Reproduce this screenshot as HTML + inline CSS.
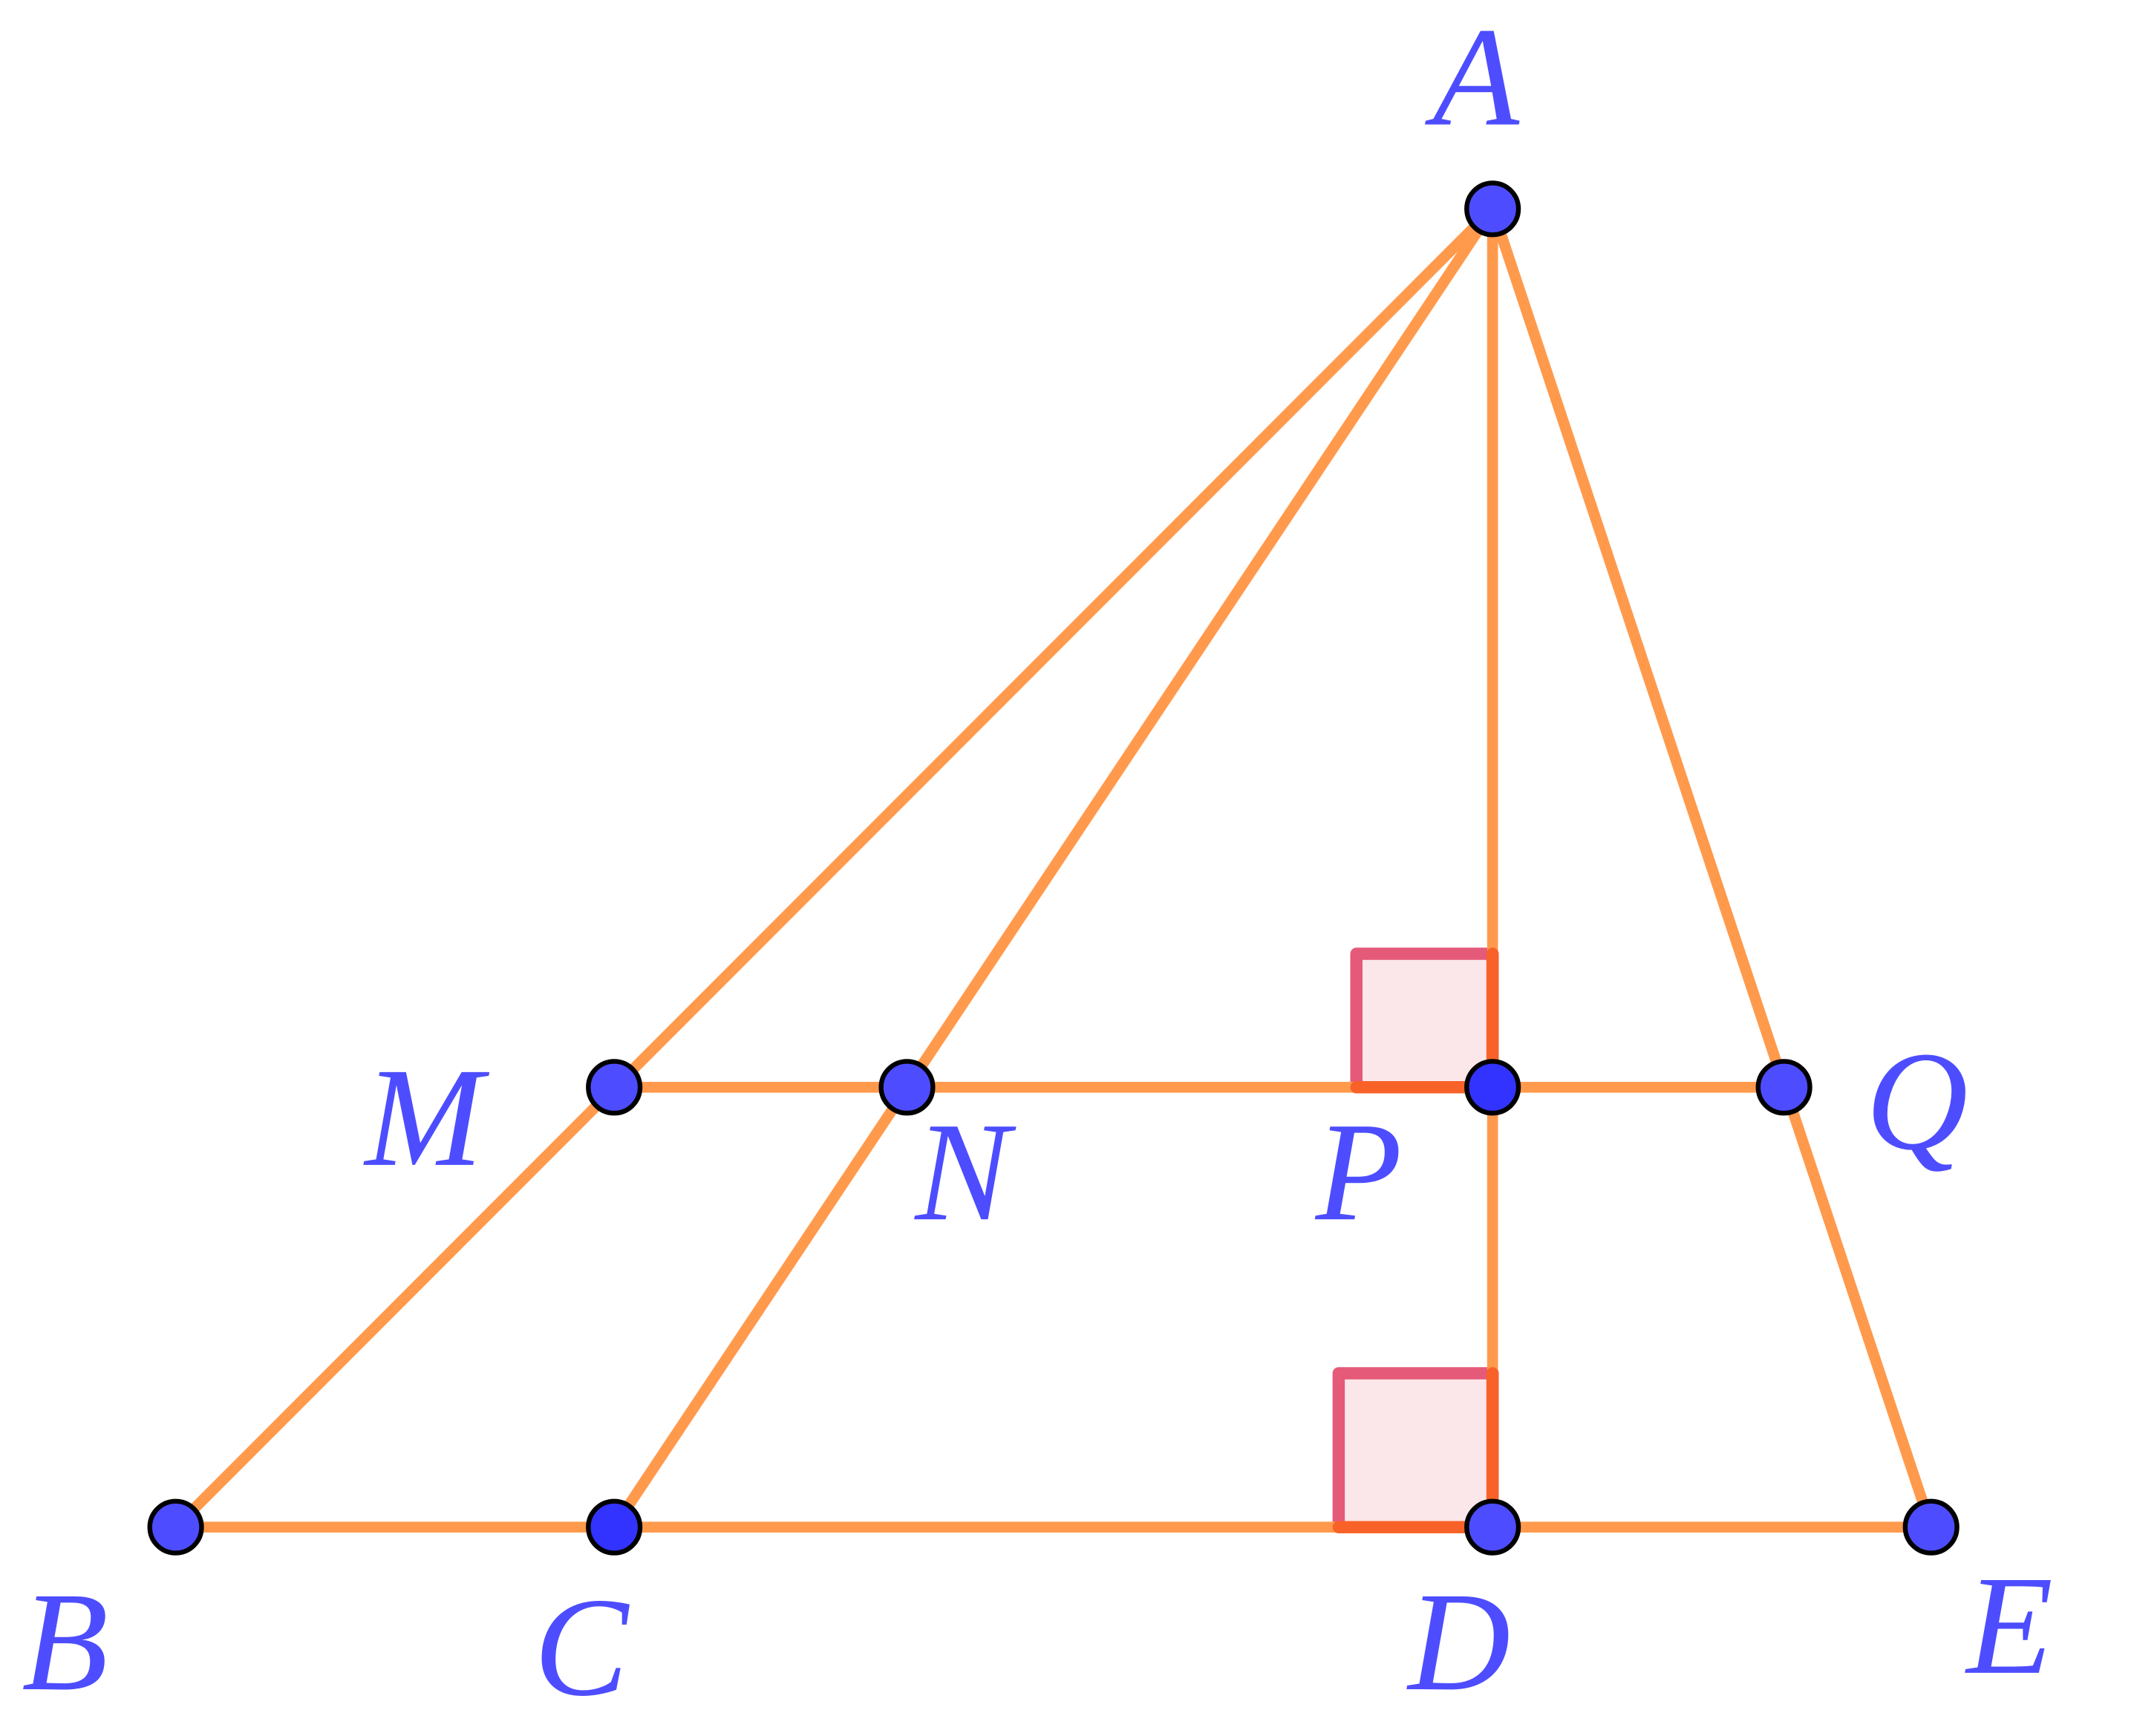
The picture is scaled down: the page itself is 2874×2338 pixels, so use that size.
<!DOCTYPE html>
<html><head><style>html,body{margin:0;padding:0;background:#fff}svg{display:block}</style></head>
<body>
<svg width="2874" height="2338" viewBox="0 0 1567 1274" xmlns="http://www.w3.org/2000/svg">
<rect width="1567" height="1274" fill="#fff"/>
<g stroke-linejoin="round" stroke-linecap="round">
<rect x="996" y="700" width="100" height="98" fill="#fbe6ea" stroke="#e45a78" stroke-width="9"/>
<rect x="983" y="1008" width="113" height="113" fill="#fbe6ea" stroke="#e45a78" stroke-width="9"/>
</g>
<g stroke="#ff9a4d" stroke-width="8" fill="none" stroke-linecap="round">
<line x1="1096" y1="153" x2="129" y2="1121"/>
<line x1="1096" y1="153" x2="451" y2="1121"/>
<line x1="1096" y1="153" x2="1096" y2="1121"/>
<line x1="1096" y1="153" x2="1418" y2="1121"/>
<line x1="451" y1="798" x2="1310" y2="798"/>
<line x1="129" y1="1121" x2="1418" y2="1121"/>
</g>
<g stroke="#f86228" stroke-width="9" fill="none" stroke-linecap="round">
<polyline points="996,798 1096,798 1096,700"/>
<polyline points="983,1121 1096,1121 1096,1008"/>
</g>
<g stroke="#000" stroke-width="3.5" fill="#4d4dff">
<circle cx="1096" cy="153" r="19"/>
<circle cx="451" cy="798" r="19"/>
<circle cx="666" cy="798" r="19"/>
<circle cx="1096" cy="798" r="19" fill="#3333ff"/>
<circle cx="1310" cy="798" r="19"/>
<circle cx="129" cy="1121" r="19"/>
<circle cx="451" cy="1121" r="19" fill="#3333ff"/>
<circle cx="1096" cy="1121" r="19"/>
<circle cx="1418" cy="1121" r="19"/>
</g>
<g fill="#4d4dff" font-family="Liberation Serif, serif" font-style="italic" font-size="104">
<text x="1052" y="91">A</text>
<text x="268" y="855">M</text>
<text x="672" y="895">N</text>
<text x="966" y="895">P</text>
<text x="1370" y="843">Q</text>
<text x="16" y="1240">B</text>
<text x="392" y="1244">C</text>
<text x="1034" y="1240">D</text>
<text x="1444" y="1228">E</text>
</g>
</svg>
</body></html>
